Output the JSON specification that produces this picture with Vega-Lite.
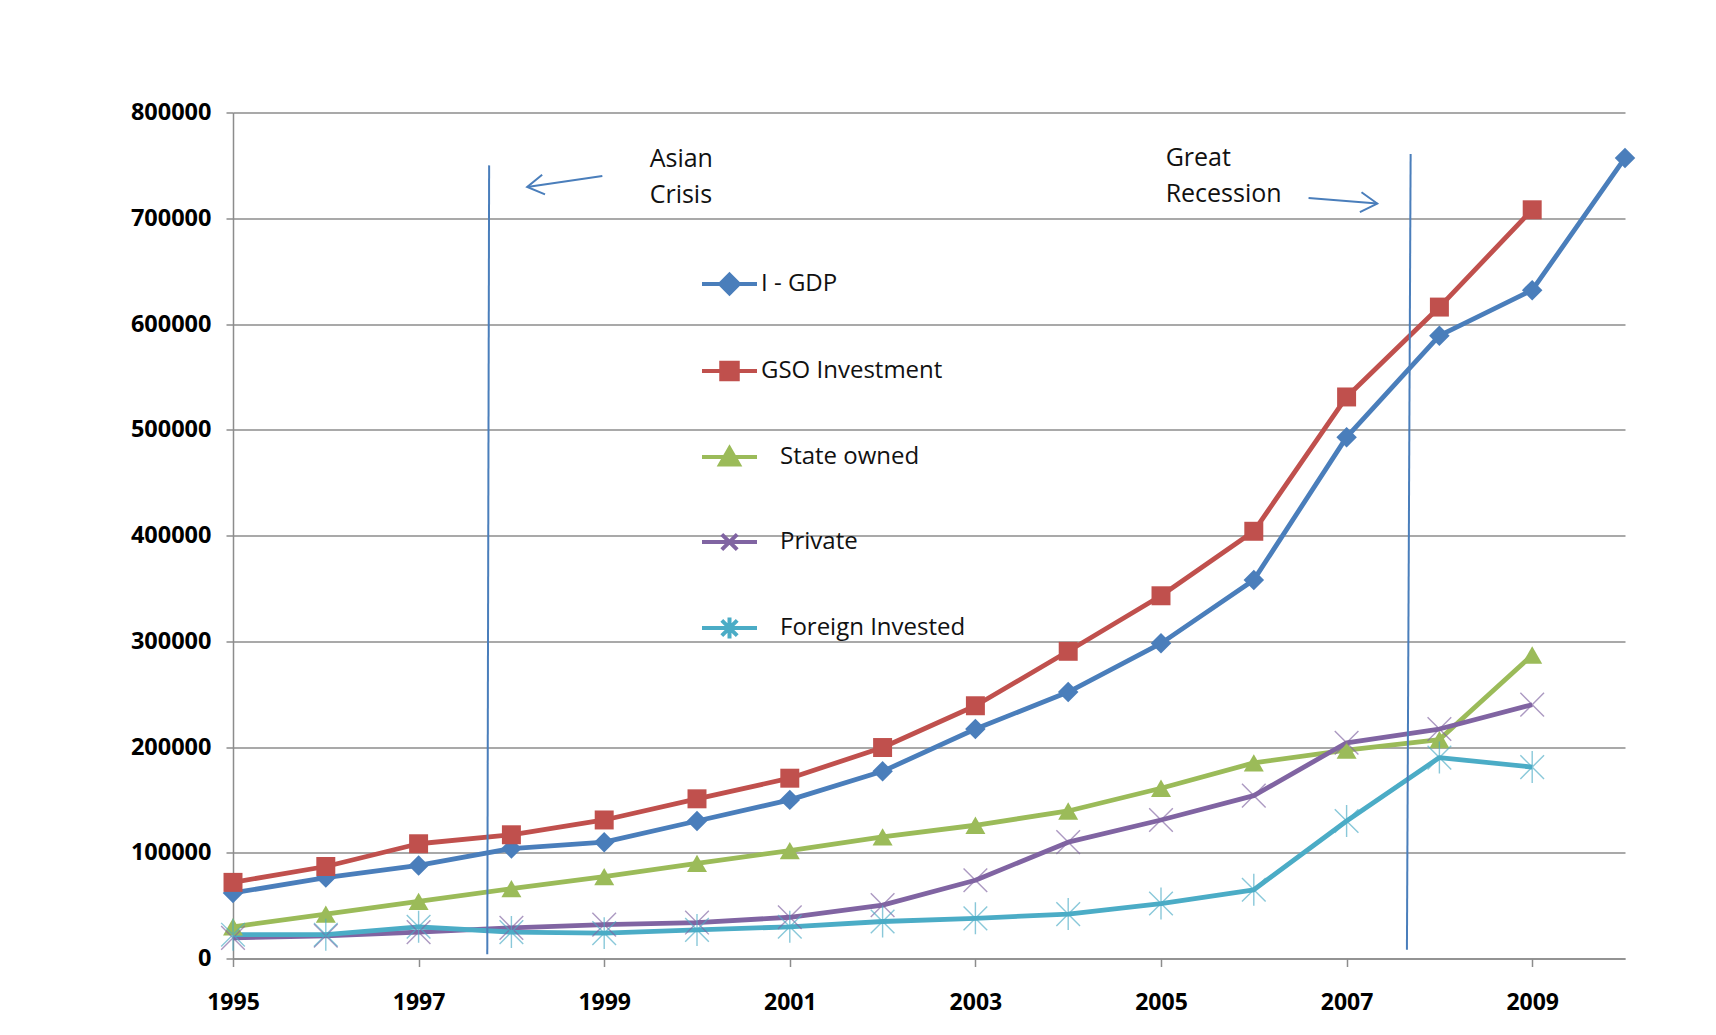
{
  "$schema": "https://vega.github.io/schema/vega-lite/v6.json",
  "width": 1392,
  "height": 846,
  "autosize": {"type": "none"},
  "padding": {"left": 233, "top": 112.5, "right": 91, "bottom": 76.5},
  "background": "white",
  "config": {"view": {"stroke": null}, "font": "Open Sans"},
  "datasets": {
    "series": [
      {"year": 1995, "series": "I - GDP", "value": 62000},
      {"year": 1996, "series": "I - GDP", "value": 76500},
      {"year": 1997, "series": "I - GDP", "value": 88000},
      {"year": 1998, "series": "I - GDP", "value": 104000},
      {"year": 1999, "series": "I - GDP", "value": 110000},
      {"year": 2000, "series": "I - GDP", "value": 130000},
      {"year": 2001, "series": "I - GDP", "value": 150000},
      {"year": 2002, "series": "I - GDP", "value": 177000},
      {"year": 2003, "series": "I - GDP", "value": 217000},
      {"year": 2004, "series": "I - GDP", "value": 252000},
      {"year": 2005, "series": "I - GDP", "value": 298000},
      {"year": 2006, "series": "I - GDP", "value": 358000},
      {"year": 2007, "series": "I - GDP", "value": 493000},
      {"year": 2008, "series": "I - GDP", "value": 589000},
      {"year": 2009, "series": "I - GDP", "value": 632000},
      {"year": 2010, "series": "I - GDP", "value": 757000},
      {"year": 1995, "series": "GSO Investment", "value": 72000},
      {"year": 1996, "series": "GSO Investment", "value": 87000},
      {"year": 1997, "series": "GSO Investment", "value": 108500},
      {"year": 1998, "series": "GSO Investment", "value": 117000},
      {"year": 1999, "series": "GSO Investment", "value": 131000},
      {"year": 2000, "series": "GSO Investment", "value": 151000},
      {"year": 2001, "series": "GSO Investment", "value": 170500},
      {"year": 2002, "series": "GSO Investment", "value": 199500},
      {"year": 2003, "series": "GSO Investment", "value": 239000},
      {"year": 2004, "series": "GSO Investment", "value": 290500},
      {"year": 2005, "series": "GSO Investment", "value": 343000},
      {"year": 2006, "series": "GSO Investment", "value": 404000},
      {"year": 2007, "series": "GSO Investment", "value": 531000},
      {"year": 2008, "series": "GSO Investment", "value": 616000},
      {"year": 2009, "series": "GSO Investment", "value": 708000},
      {"year": 1995, "series": "State owned", "value": 30000},
      {"year": 1996, "series": "State owned", "value": 42000},
      {"year": 1997, "series": "State owned", "value": 54000},
      {"year": 1998, "series": "State owned", "value": 66000},
      {"year": 1999, "series": "State owned", "value": 77500},
      {"year": 2000, "series": "State owned", "value": 90000},
      {"year": 2001, "series": "State owned", "value": 102000},
      {"year": 2002, "series": "State owned", "value": 115000},
      {"year": 2003, "series": "State owned", "value": 126000},
      {"year": 2004, "series": "State owned", "value": 139500},
      {"year": 2005, "series": "State owned", "value": 161000},
      {"year": 2006, "series": "State owned", "value": 185000},
      {"year": 2007, "series": "State owned", "value": 197000},
      {"year": 2008, "series": "State owned", "value": 207000},
      {"year": 2009, "series": "State owned", "value": 287000},
      {"year": 1995, "series": "Private", "value": 19500},
      {"year": 1996, "series": "Private", "value": 21500},
      {"year": 1997, "series": "Private", "value": 25000},
      {"year": 1998, "series": "Private", "value": 29000},
      {"year": 1999, "series": "Private", "value": 32000},
      {"year": 2000, "series": "Private", "value": 34000},
      {"year": 2001, "series": "Private", "value": 39000},
      {"year": 2002, "series": "Private", "value": 50500},
      {"year": 2003, "series": "Private", "value": 74000},
      {"year": 2004, "series": "Private", "value": 110000},
      {"year": 2005, "series": "Private", "value": 131000},
      {"year": 2006, "series": "Private", "value": 154000},
      {"year": 2007, "series": "Private", "value": 204000},
      {"year": 2008, "series": "Private", "value": 217000},
      {"year": 2009, "series": "Private", "value": 240000},
      {"year": 1995, "series": "Foreign Invested", "value": 22500},
      {"year": 1996, "series": "Foreign Invested", "value": 22500},
      {"year": 1997, "series": "Foreign Invested", "value": 30000},
      {"year": 1998, "series": "Foreign Invested", "value": 25000},
      {"year": 1999, "series": "Foreign Invested", "value": 24000},
      {"year": 2000, "series": "Foreign Invested", "value": 27000},
      {"year": 2001, "series": "Foreign Invested", "value": 30000},
      {"year": 2002, "series": "Foreign Invested", "value": 35000},
      {"year": 2003, "series": "Foreign Invested", "value": 38000},
      {"year": 2004, "series": "Foreign Invested", "value": 42000},
      {"year": 2005, "series": "Foreign Invested", "value": 52000},
      {"year": 2006, "series": "Foreign Invested", "value": 65000},
      {"year": 2007, "series": "Foreign Invested", "value": 130000},
      {"year": 2008, "series": "Foreign Invested", "value": 190000},
      {"year": 2009, "series": "Foreign Invested", "value": 181000}
    ],
    "events": [
      {"event": "Asian Crisis", "year_top": 1997.76, "year_bottom": 1997.74, "top": 750000, "bottom": 4000},
      {"event": "Great Recession", "year_top": 2007.69, "year_bottom": 2007.65, "top": 760700, "bottom": 8300}
    ],
    "arrows": [
      {"event": "Asian Crisis", "year_from": 1998.98, "value_from": 740000, "year_to": 1998.17, "value_to": 729600},
      {"event": "Great Recession", "year_from": 2006.59, "value_from": 719200, "year_to": 2007.33, "value_to": 713900}
    ],
    "notes": [
      {"label": "Asian", "year": 1999.49, "value": 748600},
      {"label": "Crisis", "year": 1999.49, "value": 714400},
      {"label": "Great", "year": 2005.05, "value": 749000},
      {"label": "Recession", "year": 2005.05, "value": 715400}
    ]
  },
  "layer": [
    {
      "data": {"name": "series"},
      "mark": {"type": "line", "strokeWidth": 4.8, "strokeJoin": "round"},
      "encoding": {
        "x": {
          "field": "year", "type": "quantitative", "title": null,
          "scale": {"domain": [1995, 2010], "nice": false, "zero": false},
          "axis": {
            "title": null, "values": [1995, 1997, 1999, 2001, 2003, 2005, 2007, 2009], "format": "d",
            "grid": false, "tickSize": 8, "tickWidth": 1.5, "tickColor": "#8c8c8c",
            "domainColor": "#8c8c8c", "domainWidth": 1.5,
            "labelFont": "Open Sans", "labelFontWeight": "bold", "labelFontSize": 23, "labelColor": "#000000",
            "labelPadding": 25, "labelFlush": false, "labelOverlap": false
          }
        },
        "y": {
          "field": "value", "type": "quantitative", "title": null,
          "scale": {"domain": [0, 800000], "nice": false},
          "axis": {
            "title": null, "values": [0, 100000, 200000, 300000, 400000, 500000, 600000, 700000, 800000], "format": "d",
            "grid": true, "gridColor": "#8c8c8c", "gridWidth": 1.5,
            "tickSize": 7, "tickWidth": 1.5, "tickColor": "#8c8c8c",
            "domainColor": "#8c8c8c", "domainWidth": 1.5,
            "labelFont": "Open Sans", "labelFontWeight": "bold", "labelFontSize": 23.5, "labelColor": "#000000",
            "labelPadding": 15, "labelFlush": false, "labelOverlap": false
          }
        },
        "color": {
          "field": "series", "type": "nominal",
          "scale": {
            "domain": ["I - GDP", "GSO Investment", "State owned", "Private", "Foreign Invested"],
            "range": ["#4a7ebb", "#c0504d", "#9bbb59", "#8064a2", "#4bacc6"]
          },
          "legend": {
            "orient": "none", "legendX": 467, "legendY": 142, "title": null, "padding": 0,
            "symbolSize": 3025, "rowPadding": 40, "labelOffset": 2, "labelLimit": 500,
            "labelFont": "Open Sans", "labelFontSize": 24, "labelColor": "#111111",
            "symbolStrokeWidth": 4, "symbolOpacity": 1,
            "encode": {
              "labels": {
                "update": {
                  "dx": {"signal": "indexof(['State owned','Private','Foreign Invested'], datum.value) >= 0 ? 19 : 0"}
                }
              },
              "symbols": {
                "update": {
                  "shape": {"signal": "datum.value === 'I - GDP' ? 'M-1,0H1M0,-0.34L0.34,0L0,0.34L-0.34,0Z' : datum.value === 'GSO Investment' ? 'M-1,0H1M-0.3,-0.3H0.3V0.3H-0.3Z' : datum.value === 'State owned' ? 'M-1,0H1M0,-0.32L0.34,0.27L-0.34,0.27Z' : datum.value === 'Private' ? 'M-1,0H1M-0.28,-0.28L0.28,0.28M-0.28,0.28L0.28,-0.28' : 'M-1,0H1M-0.28,-0.28L0.28,0.28M-0.28,0.28L0.28,-0.28M0,-0.38V0.38'"},
                  "fill": {"scale": "color", "field": "value"},
                  "stroke": {"scale": "color", "field": "value"},
                  "strokeWidth": {"value": 4},
                  "opacity": {"value": 1}
                }
              }
            }
          }
        }
      }
    },
    {
      "data": {"name": "series"},
      "transform": [{"filter": "datum.series === 'I - GDP'"}],
      "mark": {"type": "point", "filled": true, "size": 420, "opacity": 1, "shape": "diamond"},
      "encoding": {
        "x": {"field": "year", "type": "quantitative", "title": null},
        "y": {"field": "value", "type": "quantitative", "title": null},
        "color": {"field": "series", "type": "nominal"}
      }
    },
    {
      "data": {"name": "series"},
      "transform": [{"filter": "datum.series === 'GSO Investment'"}],
      "mark": {"type": "point", "filled": true, "size": 360, "opacity": 1, "shape": "square"},
      "encoding": {
        "x": {"field": "year", "type": "quantitative", "title": null},
        "y": {"field": "value", "type": "quantitative", "title": null},
        "color": {"field": "series", "type": "nominal"}
      }
    },
    {
      "data": {"name": "series"},
      "transform": [{"filter": "datum.series === 'State owned'"}],
      "mark": {"type": "point", "filled": true, "size": 400, "opacity": 1, "shape": "triangle-up"},
      "encoding": {
        "x": {"field": "year", "type": "quantitative", "title": null},
        "y": {"field": "value", "type": "quantitative", "title": null},
        "color": {"field": "series", "type": "nominal"}
      }
    },
    {
      "data": {"name": "series"},
      "transform": [{"filter": "datum.series === 'Private'"}],
      "mark": {"type": "point", "filled": false, "size": 560, "strokeWidth": 1.4, "opacity": 0.65, "shape": "M-1,-1L1,1M-1,1L1,-1"},
      "encoding": {
        "x": {"field": "year", "type": "quantitative", "title": null},
        "y": {"field": "value", "type": "quantitative", "title": null},
        "color": {"field": "series", "type": "nominal"}
      }
    },
    {
      "data": {"name": "series"},
      "transform": [{"filter": "datum.series === 'Foreign Invested'"}],
      "mark": {"type": "point", "filled": false, "size": 560, "strokeWidth": 1.4, "opacity": 0.65, "shape": "M-1,-1L1,1M-1,1L1,-1M0,-1.35V1.35"},
      "encoding": {
        "x": {"field": "year", "type": "quantitative", "title": null},
        "y": {"field": "value", "type": "quantitative", "title": null},
        "color": {"field": "series", "type": "nominal"}
      }
    },
    {
      "data": {"name": "events"},
      "mark": {"type": "rule", "color": "#4a7ebb", "strokeWidth": 2},
      "encoding": {
        "x": {"field": "year_top", "type": "quantitative", "title": null},
        "x2": {"field": "year_bottom"},
        "y": {"field": "top", "type": "quantitative", "title": null},
        "y2": {"field": "bottom"}
      }
    },
    {
      "data": {"name": "arrows"},
      "mark": {"type": "rule", "color": "#4a7ebb", "strokeWidth": 2},
      "encoding": {
        "x": {"field": "year_from", "type": "quantitative", "title": null},
        "x2": {"field": "year_to"},
        "y": {"field": "value_from", "type": "quantitative", "title": null},
        "y2": {"field": "value_to"}
      }
    },
    {
      "data": {"name": "arrows"},
      "transform": [{"filter": "datum.event === 'Asian Crisis'"}],
      "mark": {"type": "point", "shape": "M-1,-0.6L0,0L-1,0.6", "filled": false, "stroke": "#4a7ebb", "strokeWidth": 2, "size": 1100, "angle": 171.7, "opacity": 1},
      "encoding": {
        "x": {"field": "year_to", "type": "quantitative", "title": null},
        "y": {"field": "value_to", "type": "quantitative", "title": null}
      }
    },
    {
      "data": {"name": "arrows"},
      "transform": [{"filter": "datum.event === 'Great Recession'"}],
      "mark": {"type": "point", "shape": "M-1,-0.6L0,0L-1,0.6", "filled": false, "stroke": "#4a7ebb", "strokeWidth": 2, "size": 1100, "angle": 4.7, "opacity": 1},
      "encoding": {
        "x": {"field": "year_to", "type": "quantitative", "title": null},
        "y": {"field": "value_to", "type": "quantitative", "title": null}
      }
    },
    {
      "data": {"name": "notes"},
      "mark": {"type": "text", "align": "left", "baseline": "alphabetic", "font": "Open Sans", "fontSize": 25, "color": "#111111"},
      "encoding": {
        "x": {"field": "year", "type": "quantitative", "title": null},
        "y": {"field": "value", "type": "quantitative", "title": null},
        "text": {"field": "label"}
      }
    }
  ]
}
